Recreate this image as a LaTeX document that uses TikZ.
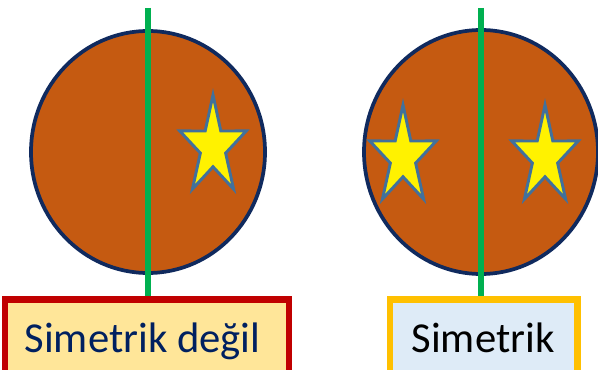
\documentclass[tikz,border=0pt]{standalone}
\usepackage{fontspec}
\setmainfont{Carlito}
\definecolor{turuncu}{HTML}{C55A11}
\definecolor{lacivert}{HTML}{102A5E}
\definecolor{yesil}{HTML}{00B050}
\definecolor{yildizcizgi}{HTML}{41719C}
\definecolor{kirmizi}{HTML}{C00000}
\definecolor{acikSari}{HTML}{FFE699}
\definecolor{altin}{HTML}{FFC000}
\definecolor{acikMavi}{HTML}{DEEBF7}
\definecolor{yaziMavi}{HTML}{002060}

\tikzset{
  daire/.style={fill=turuncu, draw=lacivert, line width=2.8pt},
  eksen/.style={draw=yesil, line width=4.4pt},
  yildiz/.style={fill=yellow, draw=yildizcizgi, line width=2.2pt},
  etiket/.style={font=\fontsize{32}{38}\selectfont, inner sep=0pt, anchor=base}
}
\newcommand{\yildizciz}[2]{%
  \draw[yildiz] (#1,#2-52) \foreach \k in {1,...,5} {
    -- ({#1+0.38*35*sin(72*\k-36)},{#2-0.38*52*cos(72*\k-36)})
    -- ({#1+35*sin(72*\k)},{#2-52*cos(72*\k)}) } -- cycle;}

\begin{document}
\begin{tikzpicture}[x=0.75pt, y=-0.75pt]
\useasboundingbox (0,0) rectangle (598,370);
\clip (0,0) rectangle (598,370);

% sol taraf
\draw[daire] (148,152) ellipse (117 and 121);
\draw[eksen] (148,8) -- (148,299);
\yildizciz{213}{147}
\draw[draw=kirmizi, fill=acikSari, line width=5.2pt] (5,299.5) rectangle (289,385);
\node[etiket, text=yaziMavi] (solYazi) at (142.5,352) {Simetrik değil};

% sag taraf
\draw[daire] (481,152) ellipse (117 and 122);
\draw[eksen] (481,8) -- (481,299);
\yildizciz{403}{157}
\yildizciz{545}{157}
\draw[draw=altin, fill=acikMavi, line width=5.2pt] (390,299.5) rectangle (577.5,385);
\node[etiket, text=black] (sagYazi) at (483,352) {Simetrik};

\end{tikzpicture}
\end{document}
